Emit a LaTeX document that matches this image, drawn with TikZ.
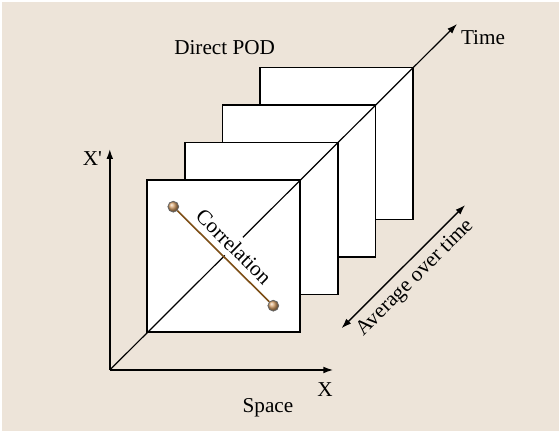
\documentclass[tikz,border=0pt]{standalone}
\usepackage{fontspec}
\setmainfont{Liberation Serif}
\usetikzlibrary{arrows.meta}
\definecolor{podbeige}{RGB}{237,228,217}
\definecolor{corrbrown}{RGB}{125,78,22}
\definecolor{balltan}{RGB}{214,160,104}

\begin{document}
\begin{tikzpicture}[
  x=0.5pt, y=-0.5pt,
  font=\fontsize{10.6}{12.7}\selectfont,
  >={Latex[length=5pt,width=3.4pt]},
  slice/.style={draw, fill=white, line width=0.75pt, minimum width=76.5pt, minimum height=76pt, inner sep=0pt},
  axis/.style={->, line width=0.75pt},
  arr/.style={<->, line width=0.7pt},
  dot/.style={circle, draw=black!60, line width=0.4pt, minimum size=5.4pt, inner sep=0pt, shading=ball, ball color=balltan}
]
\useasboundingbox (0,0) rectangle (559,431);
\fill[white] (0,0) rectangle (559,431);
\fill[podbeige] (2,2) rectangle (559,431);
\foreach \i in {4,3,2,1}
  \node[slice] (f\i) at ({223.7+37.6*(\i-1)},{256.2-37.6*(\i-1)}) {};
\coordinate (o) at (109.8,370);
\coordinate (xend) at (333.3,370);
\coordinate (yend) at (109.8,149);
\coordinate (tend) at (457,24);
\draw[axis] (o) -- (xend);
\draw[axis] (o) -- (yend);
\draw[->, line width=0.6pt] (o) -- (tend);
\node[fill=white, inner sep=2.6pt, rotate=-44.7] (corr) at (234,246.5) {Correlation};
\node[dot] (c1) at (173.3,206.7) {};
\node[dot] (c2) at (273.3,305.7) {};
\draw[corrbrown, line width=0.8pt] (c1) -- (c2);
\coordinate (a1) at (341.5,328.3);
\coordinate (a2) at (465.2,205);
\draw[arr] (a1) -- (a2);
\node[rotate=45] (avg) at (415.3,278.3) {Average over time};
\node (direct) at (224.6,47.7) {Direct POD};
\node (time) at (483,37.3) {Time};
\node (xlbl) at (325,390) {X};
\node (xplbl) at (92.5,158.3) {X\textquotesingle};
\node (space) at (268,407.3) {Space};
\end{tikzpicture}
\end{document}
